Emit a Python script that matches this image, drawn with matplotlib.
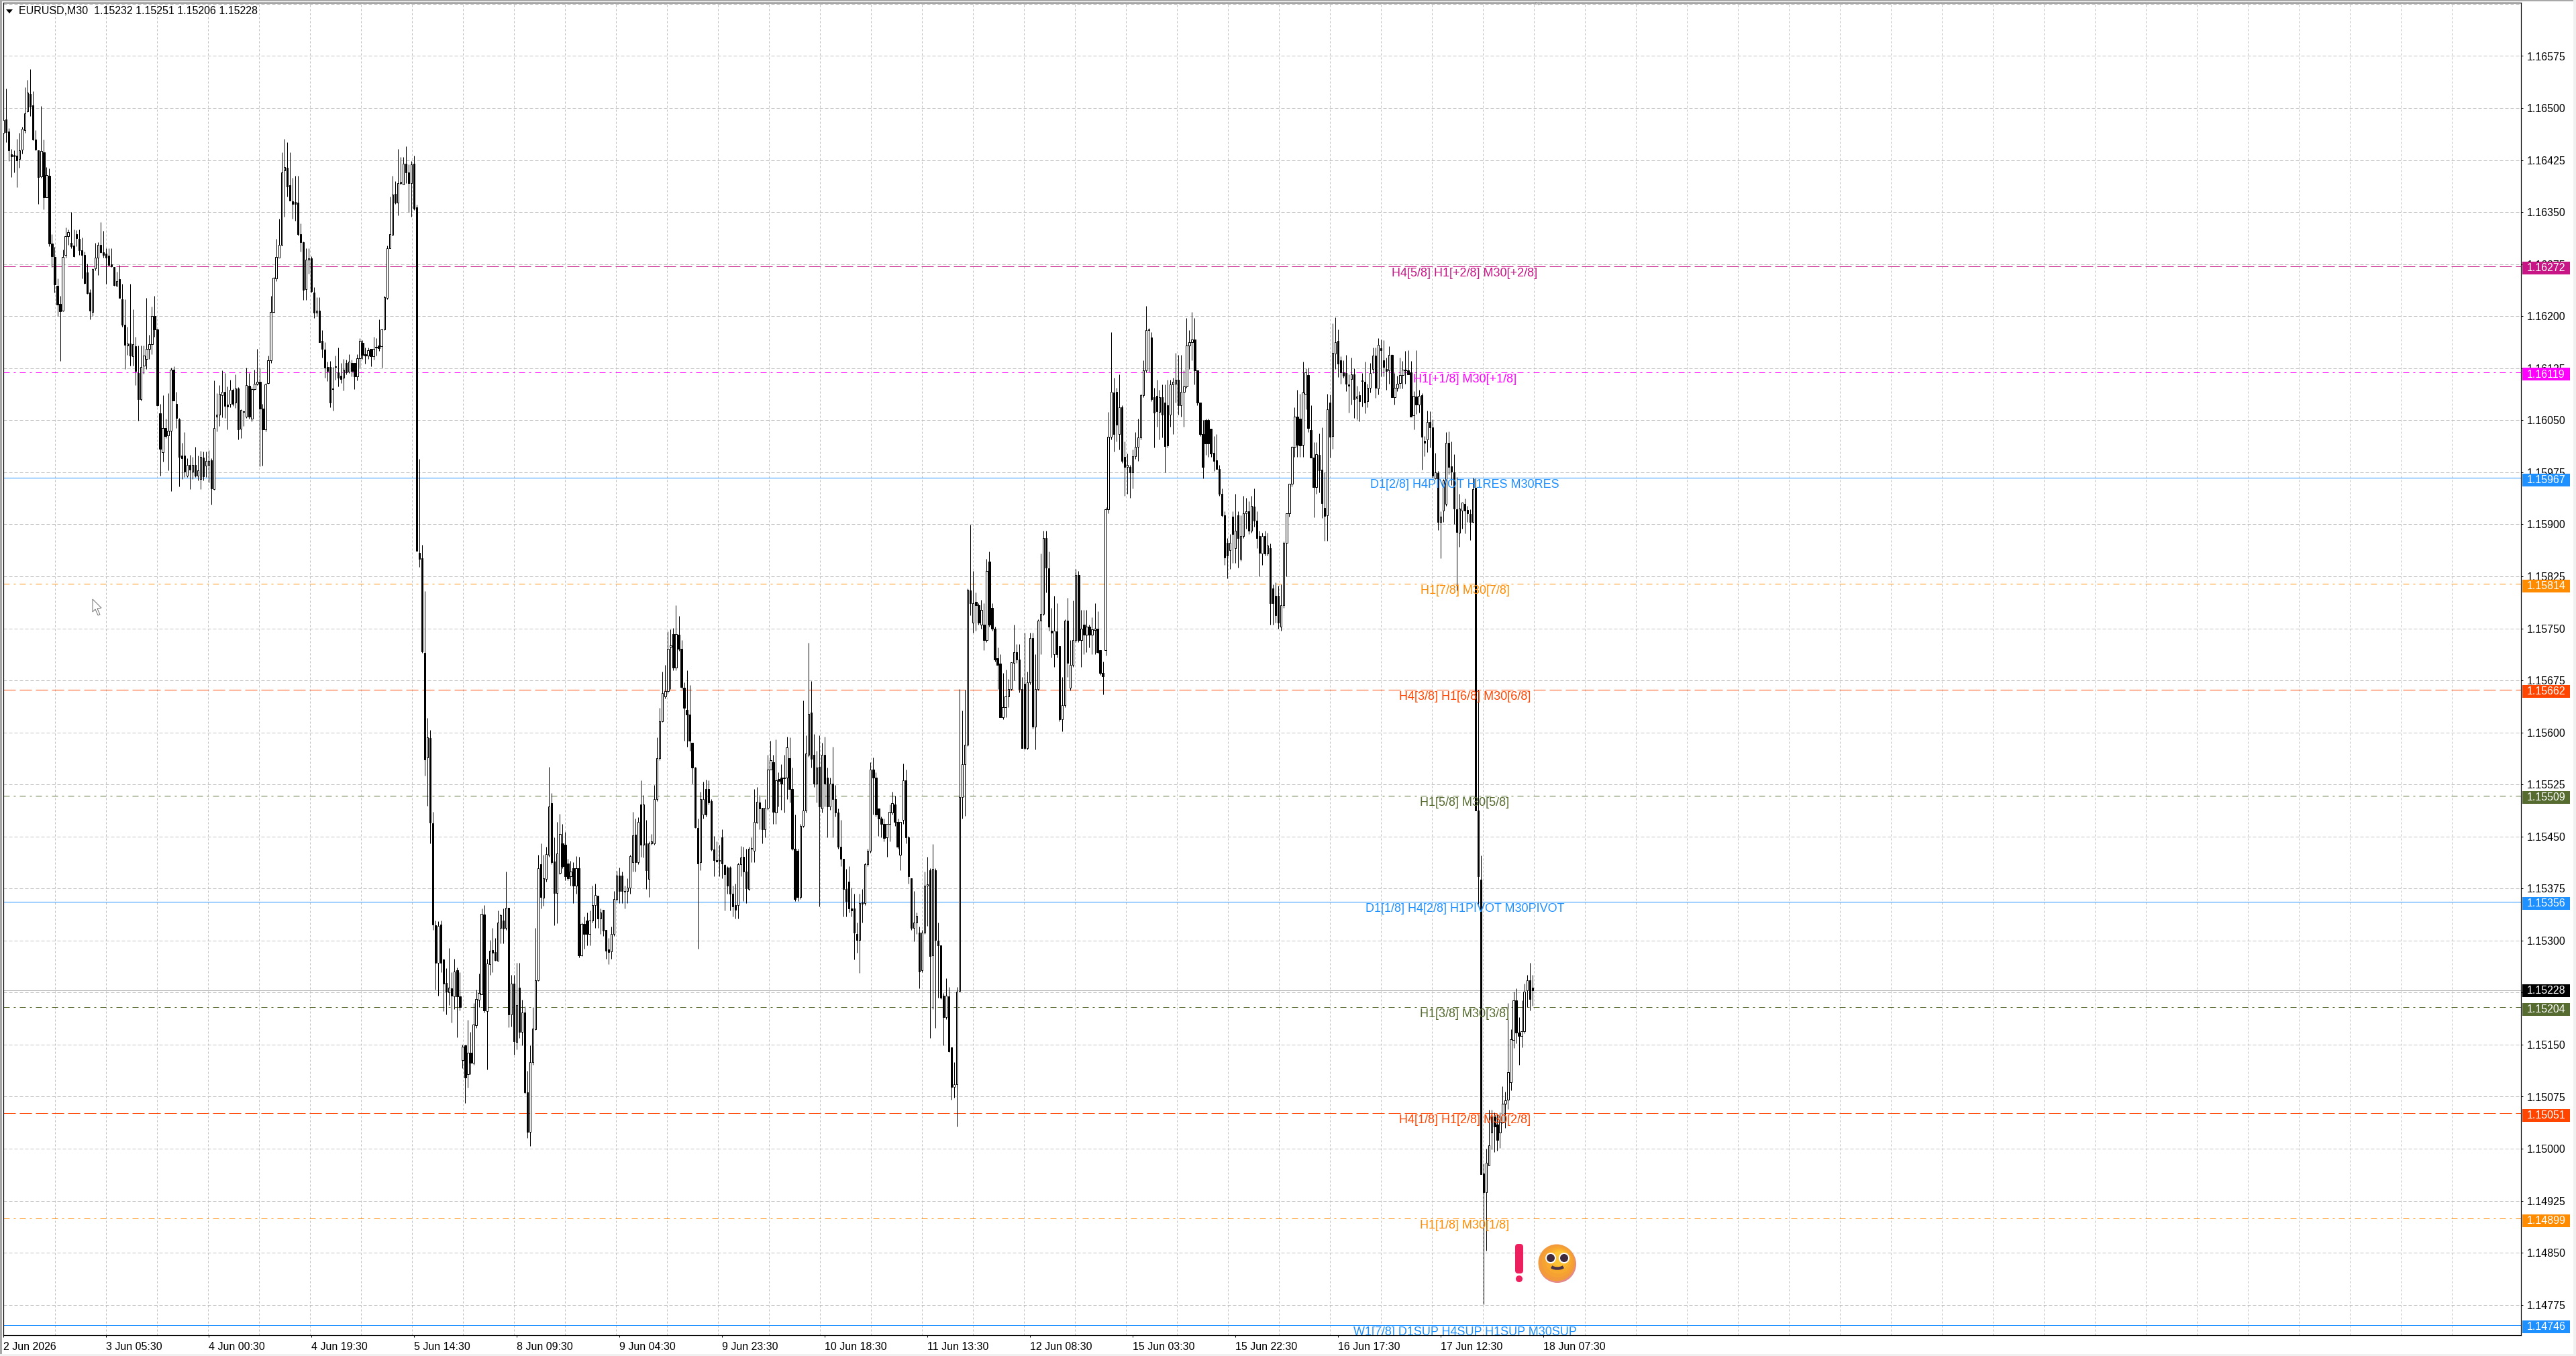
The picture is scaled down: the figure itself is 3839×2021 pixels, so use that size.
import numpy as np
import matplotlib
matplotlib.use('Agg')
import matplotlib.pyplot as plt
from matplotlib.patches import Rectangle, Circle, Polygon, FancyBboxPatch, Arc, Ellipse

plt.rcParams['font.family'] = ['Liberation Sans', 'DejaVu Sans']
plt.rcParams['lines.scale_dashes'] = False

# M30 candles, in points above 1.14000
opens = [
    2464,2484,2466,2433,2432,2431,2427,2440,2468,2495,2520,2504,2455,2439,2401,2436,2371,2402,2305,2285,
    2244,2218,2208,2288,2315,2306,2302,2318,2311,2295,2288,2263,2234,2206,2269,2284,2303,2292,2290,2287,
    2275,2271,2244,2253,2224,2188,2158,2161,2142,2157,2118,2080,2129,2138,2153,2160,2200,2181,2060,2004,
    2039,2028,2035,2123,2074,2051,1999,1999,1970,1986,1976,1986,1970,1965,1996,1985,1986,1992,1951,2055,
    2058,2086,2091,2073,2074,2094,2075,2096,2038,2063,2055,2100,2052,2095,2103,2105,2067,2037,2104,2136,
    2206,2254,2284,2303,2410,2414,2389,2366,2365,2364,2318,2307,2239,2281,2283,2234,2205,2208,2164,2152,
    2127,2127,2096,2127,2119,2114,2111,2133,2120,2133,2133,2113,2139,2162,2145,2143,2153,2142,2156,2158,
    2157,2181,2226,2298,2317,2376,2364,2392,2390,2420,2407,2392,2420,
    2357,1859,1851,1715,1564,1592,1469,
    1322,1268,1323,1273,1239,1225,1231,1220,1257,1220,1128,1149,1107,1138,1124,1178,1215,1222,1338,1198,
    1266,1286,1283,1271,1318,1329,1318,1347,1193,1238,1154,1232,1168,1196,1081,1024,1125,1172,1243,1410,
    1362,1389,1424,1498,1414,1369,1398,1440,1438,1411,1393,1404,1379,1404,1279,1324,1329,1310,1329,1351,
    1365,1332,1344,1315,1287,1284,1310,1360,1394,1394,1371,1371,1376,1413,1453,1413,1496,1438,1440,1389,
    1440,1440,1504,1563,1616,1652,1660,1723,1742,1693,1741,1721,1664,1633,1626,1585,1549,1462,1413,1482,
    1518,1518,1501,1431,1416,1416,1449,1409,1405,1405,1368,1351,1351,1410,1421,1399,1374,1432,1429,1470,
    1499,1491,1460,1491,1546,1557,1485,1533,1535,1534,1535,1563,1518,1432,1429,1363,1465,1487,1568,1629,
    1568,1526,1550,1490,1568,1535,1493,1526,1504,1485,1435,1418,1374,1385,1346,1346,1310,1301,1355,1354,
    1410,1429,1546,1535,1490,1476,1468,1449,1468,1485,1496,1471,1424,1474,1531,1449,1390,1318,1326,1311,
    1257,1311,1379,1401,1279,1401,1300,1293,1221,1190,1220,1146,1089,1093,
    1227,1507,1554,1582,1805,1758,1788,1783,1755,1755,1733,1846,1780,1750,1707,1699,1622,1636,1652,1663,
    1700,1716,1705,1663,1670,1577,1672,1736,1608,1663,1761,1771,1880,1837,1747,1713,1746,1724,1619,1639,
    1761,1664,1697,1733,1827,1733,1755,1741,1752,1741,1748,1750,1719,1686,1719,1922,2026,2090,2091,2030,
    2069,1997,1983,1983,1975,1998,2012,2025,2086,2122,2180,2169,2083,2085,2062,2083,2075,2072,2058,2102,
    2103,2108,2072,2091,2099,2158,2163,2166,2122,2075,2030,2050,2050,2038,2003,1992,1980,1944,1913,1873,
    1863,1911,1866,1913,1850,1883,1916,1919,1891,1926,1905,1883,1858,1883,1858,1866,1808,1797,1797,1752,
    1783,1873,1916,1958,2012,2055,2052,2015,2088,
    2115,2036,1996,1954,2000,1979,1924,1913,2075,2027,2146,2164,2136,2119,2118,2102,2109,2116,2082,2086,
    2107,2105,2077,2097,2124,2143,2096,2154,2136,2124,2122,2144,2083,2097,2104,2115,2123,2122,2119,2057,
    2084,2073,2086,2020,2022,2047,2040,1966,1974,1903,1920,1929,2017,1984,1975,1922,1888,1920,1929,1921,1915,1903,
    1953,1487,1388,964,937,976,1023,1046,1035,1023,1039,1065,1071,1096,1157,1214,1167,1163,1169,1228,1243,1232,
]
highs = [
    2497,2528,2471,2441,2439,2456,2464,2473,2530,2541,2556,2524,2468,2439,2503,2455,2415,2413,2318,2300,
    2254,2229,2296,2328,2325,2350,2325,2324,2325,2313,2293,2276,2239,2269,2306,2307,2336,2323,2298,2298,
    2298,2271,2264,2274,2247,2224,2185,2247,2210,2170,2158,2158,2158,2226,2173,2214,2229,2182,2074,2086,
    2052,2089,2126,2128,2091,2053,2017,2033,1995,2000,1997,2012,1999,2006,2005,2005,2007,1995,2107,2089,
    2101,2122,2118,2099,2108,2096,2116,2098,2066,2064,2126,2118,2098,2123,2153,2126,2074,2104,2143,2229,
    2256,2311,2340,2436,2456,2451,2436,2399,2402,2402,2334,2308,2298,2298,2286,2242,2227,2227,2180,2163,
    2134,2135,2127,2143,2155,2133,2138,2137,2145,2137,2133,2145,2168,2165,2155,2155,2153,2170,2168,2195,
    2182,2229,2302,2372,2402,2395,2441,2429,2429,2445,2419,2424,2431,
    2361,1994,1870,1804,1621,1604,1486,
    1329,1328,1329,1274,1260,1289,1254,1274,1261,1254,1150,1150,1186,1168,1210,1229,1252,1346,1351,1274,
    1301,1318,1304,1343,1339,1346,1399,1347,1251,1251,1268,1268,1215,1205,1112,1149,1204,1318,1424,1440,
    1424,1435,1550,1513,1449,1471,1483,1468,1457,1418,1415,1413,1422,1421,1326,1335,1340,1343,1379,1382,
    1365,1346,1344,1315,1304,1320,1371,1400,1405,1399,1379,1390,1424,1486,1476,1478,1531,1510,1474,1443,
    1454,1524,1593,1635,1688,1697,1746,1749,1751,1783,1768,1733,1672,1690,1668,1585,1550,1476,1515,1529,
    1532,1531,1504,1451,1443,1438,1460,1410,1407,1407,1379,1382,1412,1436,1435,1432,1435,1449,1518,1521,
    1510,1491,1504,1568,1588,1568,1590,1543,1554,1568,1594,1593,1549,1482,1432,1468,1646,1596,1729,1674,
    1598,1574,1596,1585,1594,1549,1535,1579,1524,1490,1474,1418,1403,1407,1376,1368,1326,1368,1374,1412,
    1432,1557,1564,1543,1490,1479,1476,1468,1496,1515,1509,1476,1471,1555,1546,1451,1390,1371,1340,1320,
    1315,1399,1421,1404,1439,1404,1326,1293,1224,1246,1233,1146,1125,1233,
    1663,1632,1662,1808,1899,1833,1802,1786,1791,1786,1850,1861,1786,1752,1722,1713,1686,1691,1677,1701,
    1755,1727,1727,1680,1744,1688,1744,1744,1713,1763,1858,1891,1891,1861,1780,1797,1786,1724,1680,1763,
    1794,1733,1790,1836,1833,1777,1777,1777,1755,1766,1786,1775,1719,1702,1925,2062,2177,2111,2097,2116,
    2072,2019,2002,1986,2008,2033,2052,2088,2136,2215,2183,2177,2097,2108,2094,2102,2102,2108,2108,2111,
    2147,2144,2144,2122,2197,2180,2206,2197,2122,2075,2050,2052,2052,2038,2027,2030,1986,1952,1919,1880,
    1886,1919,1944,1919,1913,1941,1938,1933,1941,1952,1919,1891,1888,1891,1888,1872,1813,1816,1811,1813,
    1875,1916,1958,2013,2069,2094,2088,2134,2125,
    2126,2072,2018,2018,2031,2040,1975,2088,2087,2190,2198,2181,2142,2136,2144,2116,2140,2125,2100,2092,
    2118,2134,2103,2133,2155,2155,2168,2166,2165,2140,2157,2145,2118,2114,2140,2135,2150,2151,2135,2092,
    2151,2094,2089,2027,2064,2063,2051,2003,1977,1919,1965,2033,2034,2019,2001,1968,1944,1931,1937,1927,1922,1967,
    1966,1662,1423,979,1000,1056,1056,1052,1050,1052,1090,1082,1210,1172,1226,1231,1190,1214,1238,1251,1268,1251,
]
lows = [
    2455,2451,2424,2400,2407,2386,2414,2434,2464,2494,2488,2454,2439,2362,2399,2354,2371,2301,2271,2234,
    2200,2135,2207,2284,2303,2298,2285,2301,2288,2254,2247,2232,2195,2200,2266,2259,2291,2284,2247,2274,
    2271,2244,2244,2226,2185,2124,2144,2129,2129,2101,2049,2078,2117,2124,2138,2145,2170,2071,1970,1990,
    2024,1978,1948,2078,2039,1955,1965,1968,1968,1951,1965,1968,1963,1951,1963,1968,1960,1928,1950,2034,
    2042,2054,2053,2037,2069,2071,2068,2022,2024,2042,2053,2052,2048,2094,2101,1984,1985,2034,2103,2133,
    2205,2251,2284,2302,2343,2372,2367,2340,2338,2316,2293,2223,2223,2261,2234,2197,2200,2163,2140,2111,
    2106,2069,2064,2108,2099,2104,2093,2116,2118,2113,2095,2107,2126,2138,2132,2138,2128,2137,2143,2150,
    2126,2180,2224,2298,2316,2362,2345,2390,2390,2392,2350,2343,2353,
    1862,1839,1715,1538,1494,1440,1315,
    1229,1221,1254,1198,1193,1207,1182,1201,1161,1199,1116,1066,1088,1107,1121,1174,1204,1222,1196,1114,
    1251,1254,1271,1271,1296,1296,1315,1175,1176,1135,1143,1160,1149,1079,1016,1004,1121,1171,1242,1346,
    1350,1385,1421,1410,1322,1325,1396,1404,1387,1387,1379,1354,1368,1276,1278,1288,1293,1293,1326,1318,
    1318,1310,1307,1274,1266,1274,1307,1357,1354,1354,1346,1354,1368,1399,1399,1410,1421,1420,1374,1363,
    1438,1438,1501,1560,1615,1649,1657,1663,1690,1690,1718,1663,1588,1579,1574,1526,1462,1288,1401,1476,
    1479,1496,1429,1393,1413,1393,1390,1343,1368,1343,1335,1332,1332,1393,1357,1354,1372,1413,1413,1469,
    1460,1440,1449,1488,1546,1468,1468,1493,1488,1485,1504,1499,1430,1357,1357,1360,1463,1485,1565,1549,
    1521,1499,1349,1485,1493,1449,1488,1449,1479,1432,1407,1335,1335,1340,1335,1273,1282,1253,1326,1351,
    1407,1427,1482,1479,1451,1449,1443,1421,1443,1482,1465,1432,1401,1468,1440,1382,1315,1299,1310,1231,
    1254,1310,1321,1160,1201,1174,1218,1216,1149,1187,1139,1071,1074,1032,
    1226,1476,1480,1580,1769,1744,1747,1755,1750,1719,1730,1752,1747,1702,1663,1622,1619,1622,1636,1661,
    1675,1700,1658,1577,1575,1575,1669,1605,1575,1661,1713,1769,1802,1747,1708,1694,1708,1616,1602,1636,
    1680,1661,1694,1730,1730,1694,1713,1716,1722,1713,1713,1714,1683,1655,1711,1916,2022,2005,2019,2008,
    1988,1941,1944,1938,1952,1994,1991,2022,2083,2119,2120,2077,2011,2041,2022,2025,1975,2011,2041,2030,
    2075,2058,2055,2041,2097,2124,2136,2102,2072,2027,1966,2000,1997,1997,1977,1980,1941,1911,1841,1822,
    1836,1844,1844,1838,1847,1880,1894,1886,1888,1897,1866,1825,1841,1855,1855,1755,1755,1758,1750,1747,
    1780,1825,1911,1955,1997,1997,1997,1997,2066,
    2033,1996,1910,1944,1946,1909,1876,1876,1996,2009,2124,2112,2103,2111,2092,2061,2073,2053,2051,2048,
    2070,2060,2069,2090,2118,2082,2087,2113,2113,2094,2103,2083,2073,2092,2096,2096,2103,2116,2055,2037,
    2059,2061,1979,1998,2004,2011,1967,1965,1892,1851,1903,1927,1972,1957,1900,1805,1868,1894,1887,1903,1877,1902,
    1487,1352,963,776,853,976,999,995,997,1001,1037,1030,1057,1084,1145,1152,1121,1146,1166,1204,1199,1206,
]
closes = [
    2483,2465,2439,2430,2430,2425,2439,2470,2492,2522,2502,2455,2440,2400,2438,2371,2403,2305,2286,2246,
    2217,2207,2285,2315,2321,2301,2286,2312,2295,2288,2248,2233,2208,2268,2284,2303,2292,2288,2284,2274,
    2272,2245,2251,2226,2188,2159,2161,2143,2160,2121,2080,2127,2143,2153,2160,2200,2181,2072,2009,2039,
    2027,2035,2123,2078,2053,1997,1995,1976,1986,1979,1986,1970,1978,1997,1969,1991,1991,1952,2039,2058,
    2088,2091,2071,2070,2094,2074,2096,2037,2065,2062,2101,2055,2095,2103,2105,2067,2037,2102,2136,2206,
    2255,2285,2303,2407,2415,2387,2367,2362,2362,2318,2307,2238,2281,2283,2236,2205,2208,2163,2153,2126,
    2121,2075,2095,2128,2111,2109,2123,2119,2134,2121,2113,2139,2164,2144,2143,2151,2142,2153,2155,2154,
    2181,2227,2298,2318,2375,2364,2392,2394,2420,2407,2392,2419,2355,
    1862,1850,1717,1561,1593,1470,1323,
    1268,1321,1268,1238,1226,1232,1221,1255,1220,1204,1147,1103,1138,1124,1179,1216,1224,1339,1199,1267,
    1285,1282,1272,1326,1337,1317,1347,1193,1238,1155,1207,1168,1196,1081,1024,1125,1173,1243,1404,1363,
    1390,1425,1493,1413,1369,1426,1454,1407,1393,1390,1399,1379,1404,1279,1324,1310,1310,1329,1351,1366,
    1332,1340,1314,1285,1283,1310,1360,1394,1371,1371,1370,1376,1422,1452,1413,1471,1438,1496,1401,1440,
    1443,1504,1563,1616,1657,1660,1721,1725,1693,1742,1721,1665,1635,1626,1588,1549,1463,1411,1504,1504,
    1482,1499,1431,1416,1414,1415,1411,1396,1379,1368,1349,1344,1410,1420,1399,1375,1432,1433,1471,1500,
    1490,1460,1491,1546,1560,1486,1531,1530,1526,1535,1578,1518,1432,1360,1363,1465,1487,1570,1627,1562,
    1526,1549,1493,1568,1526,1493,1526,1504,1485,1435,1418,1374,1357,1346,1343,1311,1301,1354,1353,1410,
    1429,1546,1535,1482,1476,1468,1448,1468,1486,1498,1471,1435,1471,1531,1449,1393,1318,1326,1336,1255,
    1311,1379,1381,1278,1403,1301,1293,1218,1190,1221,1140,1089,1093,1226,
    1507,1554,1582,1806,1786,1786,1783,1758,1777,1733,1833,1755,1750,1705,1697,1622,1636,1652,1663,1701,
    1716,1705,1663,1577,1577,1672,1736,1608,1663,1761,1771,1880,1838,1752,1744,1747,1713,1619,1639,1761,
    1700,1697,1733,1827,1733,1750,1741,1752,1741,1749,1750,1716,1686,1681,1922,2026,2091,2030,2044,2069,
    1991,1983,1986,1975,1998,2012,2025,2086,2122,2180,2181,2080,2061,2063,2083,2058,2013,2014,2102,2105,
    2108,2072,2091,2099,2158,2163,2166,2122,2075,2030,1983,2016,2016,2002,1991,1980,1944,1913,1852,1855,
    1873,1886,1891,1880,1883,1916,1919,1891,1927,1905,1880,1859,1883,1858,1869,1786,1786,1769,1758,1783,
    1873,1916,1958,2012,2055,2015,2014,2090,2119,
    2039,1996,1954,2001,1978,1930,1912,2066,2026,2147,2163,2132,2119,2114,2103,2100,2116,2080,2084,2077,
    2106,2075,2097,2118,2143,2097,2159,2151,2127,2121,2144,2083,2097,2103,2115,2123,2122,2116,2055,2085,
    2073,2085,2026,2017,2047,2040,1970,1975,1903,1911,1963,2017,1983,1976,1923,1889,1923,1931,1920,1916,1903,1951,
    1487,1393,963,937,980,1005,1046,1032,1013,1039,1065,1070,1110,1158,1214,1167,1163,1169,1226,1243,1216,1228,
]
assert len(opens) == len(highs) == len(lows) == len(closes), (len(opens), len(highs), len(lows), len(closes))

time_labels = ['2 Jun 2026', '3 Jun 05:30', '4 Jun 00:30', '4 Jun 19:30', '5 Jun 14:30', '8 Jun 09:30',
               '9 Jun 04:30', '9 Jun 23:30', '10 Jun 18:30', '11 Jun 13:30', '12 Jun 08:30', '15 Jun 03:30',
               '15 Jun 22:30', '16 Jun 17:30', '17 Jun 12:30', '18 Jun 07:30']
level_prices = [1.16272, 1.16119, 1.15967, 1.15814, 1.15662, 1.15509, 1.15356, 1.15204, 1.15051, 1.14899, 1.14746]
level_colors = ['#C71585', '#FF00FF', '#1E90FF', '#FF8C00', '#FF4500', '#556B2F', '#1E90FF', '#556B2F', '#FF4500', '#FF8C00', '#1E90FF']
level_kinds = ['dash', 'dashdot', 'solid', 'dashdot', 'dash', 'dashdot', 'solid', 'dashdot', 'dash', 'dashdot', 'solid']
level_texts = ['H4[5/8] H1[+2/8] M30[+2/8]', 'H1[+1/8] M30[+1/8]', 'D1[2/8] H4PIVOT H1RES M30RES', 'H1[7/8] M30[7/8]',
               'H4[3/8] H1[6/8] M30[6/8]', 'H1[5/8] M30[5/8]', 'D1[1/8] H4[2/8] H1PIVOT M30PIVOT', 'H1[3/8] M30[3/8]',
               'H4[1/8] H1[2/8] M30[2/8]', 'H1[1/8] M30[1/8]', 'W1[7/8] D1SUP H4SUP H1SUP M30SUP']
last_price = 1.15228

W, H = 3839, 2021
PX = 0.72  # one screen pixel in points at dpi 100
BAR_PX = 4.026

fig = plt.figure(figsize=((W + 0.01) / 100, (H + 0.01) / 100), dpi=100, facecolor='white')
ax = fig.add_axes([4.5 / W, 1 - 1990 / H, 3752 / W, 1986 / H])

px_per_unit = 103400
y_top = 1.16575 + 79.5 / px_per_unit
y_bottom = 1.16575 - 1906.5 / px_per_unit
ax.set_ylim(y_bottom, y_top)
ax.set_xlim(-0.5 / BAR_PX, 3751.5 / BAR_PX)

x = np.arange(len(closes))
o = 1.14 + np.array(opens) / 1e5
h = 1.14 + np.array(highs) / 1e5
l = 1.14 + np.array(lows) / 1e5
c = 1.14 + np.array(closes) / 1e5

# Grid, spaced in screen pixels like the terminal does it
grid_color = '#c0c0c0'
for k in range(-1, 26):
    ax.axhline(1.14775 + k * 0.00075, color=grid_color, lw=PX, ls=(0, (5 * PX, 3 * PX)), zorder=1)
for k in range(1, 49):
    ax.axvline((0.6 + 76 * k) / BAR_PX, color=grid_color, lw=PX, ls=(0, (3 * PX, 3 * PX)), zorder=1)

# Level lines
patterns = {'dash': (0, (18 * PX, 6 * PX)),
            'dashdot': (0, (9 * PX, 6 * PX, 3 * PX, 6 * PX)),
            'solid': '-'}
for price, col, kind in zip(level_prices, level_colors, level_kinds):
    ax.axhline(price, color=col, lw=PX, ls=patterns[kind], zorder=2)
ax.axhline(last_price, color='#b4b4b4', lw=PX, zorder=2)

# Candles
ax.vlines(x, l, h, color='black', lw=PX, zorder=3)
up = c >= o
body_w = 2.3 / BAR_PX
ax.bar(x[up], (c - o)[up], bottom=o[up], width=body_w, facecolor='white', edgecolor='black', linewidth=PX, zorder=4)
ax.bar(x[~up], (c - o)[~up], bottom=o[~up], width=body_w, facecolor='black', edgecolor='black', linewidth=PX, zorder=4)

# Level captions sit just under their line
for price, col, txt in zip(level_prices, level_colors, level_texts):
    ax.annotate(txt, xy=(2178 / BAR_PX, price), xytext=(0, -10.5 * PX), textcoords='offset points',
                color=col, fontsize=13, ha='center', va='center', zorder=6, annotation_clip=False, clip_on=True)

# Axes
for s in ax.spines.values():
    s.set_linewidth(PX * 1.2)
    s.set_color('black')
ax.set_xticks(np.arange(len(time_labels)) * 38)
ax.set_xticklabels(time_labels, ha='left')
ax.yaxis.tick_right()
yticks = np.round(1.14775 + np.arange(0, 25) * 0.00075, 5)
ax.set_yticks(yticks)
ax.set_yticklabels(['%.5f' % v for v in yticks])
ax.tick_params(axis='x', length=3 * PX, width=PX, pad=5, labelsize=11.5, colors='black')
ax.tick_params(axis='y', length=3 * PX, width=PX, pad=6 * PX, labelsize=11.5, colors='black')

# Price boxes on the axis; the level boxes hang 3 px below their line
unit = 1 / px_per_unit
all_prices = level_prices + [last_price]
all_colors = level_colors + ['black']
box_shift = [3] * len(level_prices) + [0]
trans = ax.get_yaxis_transform()
for price, col, shift in zip(all_prices, all_colors, box_shift):
    ax.add_patch(Rectangle((1 + 2 / 3752, price - (9.5 + shift) * unit), 71 / 3752, 19 * unit, transform=trans,
                           facecolor=col, edgecolor='none', clip_on=False, zorder=8))
    ax.text(1 + 9 / 3752, price - shift * unit, '%.5f' % price, transform=trans, color='white', fontsize=11.5,
            ha='left', va='center', clip_on=False, zorder=9)

# Window furniture and the two emoji stickers, in screen pixels
over = fig.add_axes([0, 0, 1, 1], facecolor='none')
over.set_xlim(0, W)
over.set_ylim(H, 0)
over.axis('off')
over.text(28, 16.5, 'EURUSD,M30  1.15232 1.15251 1.15206 1.15228', fontsize=11.5, va='center', ha='left', color='black')
over.add_patch(Polygon([[9, 14], [19, 14], [14, 20]], facecolor='black', edgecolor='none'))
over.add_patch(Rectangle((0, 0), 3, H, facecolor='#a8a8a8', edgecolor='none'))
over.add_patch(Rectangle((0, 0), W, 2.5, facecolor='#a8a8a8', edgecolor='none'))
over.add_patch(Rectangle((0, 2018), W, 3, facecolor='#f0f0f0', edgecolor='none'))
over.add_patch(Rectangle((3835, 0), 4, H, facecolor='#f0f0f0', edgecolor='none'))
over.add_patch(Polygon([[2288, 3], [2298, 3], [2293, 8]], facecolor='#b0b0b0', edgecolor='none'))
# mouse pointer
over.add_patch(Polygon([[138, 893], [138, 912], [142, 908], [146, 917], [149, 916], [145, 907], [151, 906]],
                       facecolor='white', edgecolor='#707070', linewidth=PX))
# exclamation mark
over.add_patch(FancyBboxPatch((2261, 1857), 6, 38, boxstyle='round,pad=3,rounding_size=4.5', facecolor='#EE1F5F', edgecolor='none'))
over.add_patch(Circle((2264, 1906), 5, facecolor='#EE1F5F', edgecolor='none'))
# smiley, shaded with stacked discs
over.add_patch(Ellipse((2321, 1884), 56, 56, facecolor='#E58A8C', edgecolor='none'))
shades = ['#F29A3C', '#F5A233', '#F8AA30', '#FBB630', '#FDC335']
for n, col in enumerate(shades):
    r = 55 - n * 8
    over.add_patch(Ellipse((2320 + n * 1.2, 1882 - n * 1.6), r, r, facecolor=col, edgecolor='none'))
for ex in (2311, 2331):
    over.add_patch(Circle((ex, 1875), 8, facecolor='white', edgecolor='none'))
    over.add_patch(Circle((ex, 1875), 6, facecolor='#3F2B3D', edgecolor='none'))
over.add_patch(Arc((2321, 1884), 23, 13, theta1=25, theta2=155, color='#4A3344', lw=3.2))

fig.savefig('out.png', dpi=100, facecolor='white')
